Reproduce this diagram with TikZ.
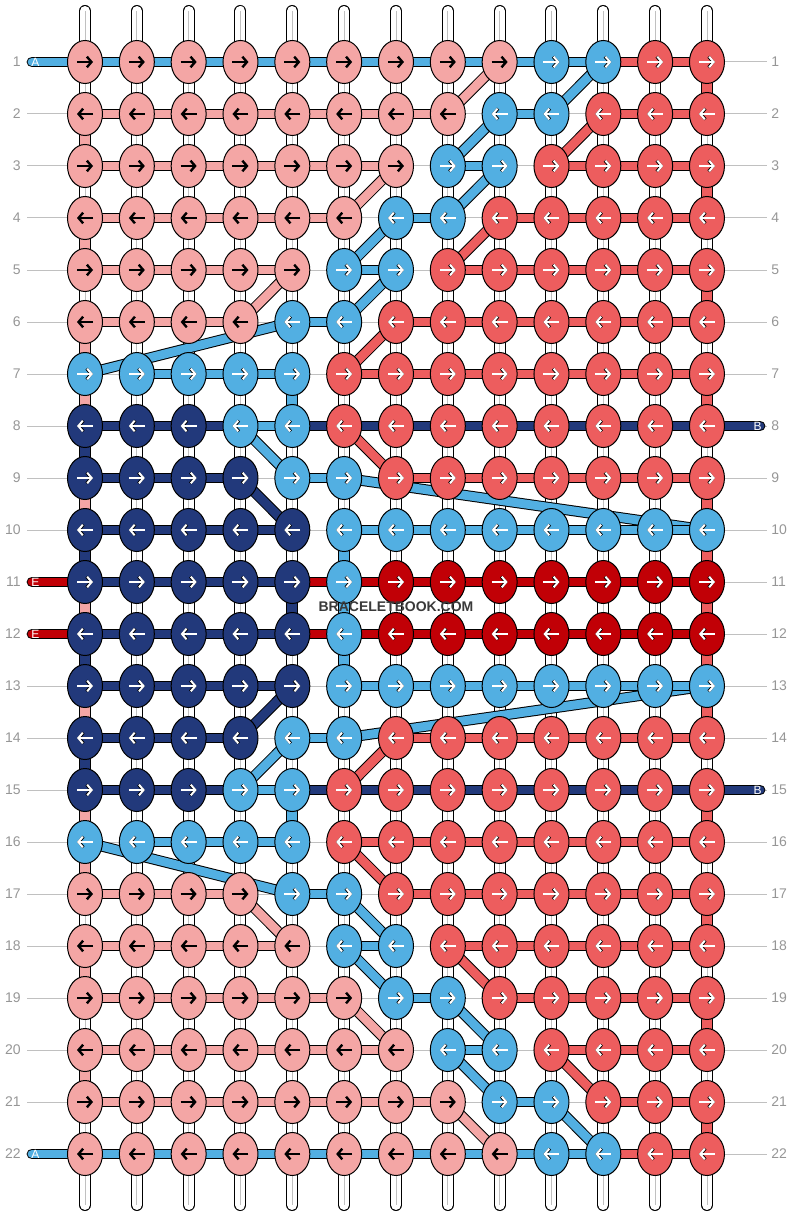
\documentclass[tikz,border=0pt]{standalone}
\usepackage{fontspec}
\setmainfont{Liberation Sans}
\usepackage{xcolor}
\usepackage{tikz}
\usetikzlibrary{shapes.geometric, arrows.meta}
\definecolor{cP}{RGB}{244,166,165}
\definecolor{cS}{RGB}{237,93,94}
\definecolor{cD}{RGB}{193,0,6}
\definecolor{cB}{RGB}{82,175,226}
\definecolor{cN}{RGB}{34,57,123}
\definecolor{guidegray}{RGB}{192,192,192}
\definecolor{labelgray}{RGB}{150,150,150}
\definecolor{markgray}{RGB}{58,58,58}
\def\nothread{-}
\def\pinkcode{P}
\pgfdeclarelayer{guides}
\pgfdeclarelayer{threads}
\pgfsetlayers{guides,threads,main}
\tikzset{
  knot/.style={ellipse, draw=black, line width=0.75pt,
    minimum width=26.25pt, minimum height=32.25pt, inner sep=0pt},
  band/.style={draw=black, line width=0.75pt, double=#1, double distance=6.6pt},
  vband/.style={draw=black, line width=0.75pt, double=#1, double distance=7.5pt},
  tube/.style={vband=white, line cap=round},
  tubeline/.style={draw=guidegray, line width=0.6pt},
  lead/.style={band=#1, line cap=round},
  leadtag/.style={text=white, font=\fontsize{9}{10}\selectfont, inner sep=0pt},
  guide/.style={draw=guidegray, line width=0.75pt},
  rowlabel/.style={text=labelgray, font=\fontsize{10.5}{12}\selectfont, inner sep=0pt},
  darkarrow/.style={draw=black, line width=1.8pt,
    arrows={-Straight Barb[length=3.4pt, width=8pt]}},
  lightarrow/.style={draw=white, line width=1.5pt,
    arrows={-Straight Barb[length=3.4pt, width=8pt]},
    preaction={draw=black, line width=2.2pt,
      arrows={-Straight Barb[length=3.4pt, width=8pt]}}}
}

\begin{document}
\begin{tikzpicture}[x=0.75pt, y=-0.75pt]
  \useasboundingbox (0,0) rectangle (792,1216);

  % Knots (rows 1-11, mirrored onto 22-12)
  \foreach \row/\cols in {
      1/{P,P,P,P,P,P,P,P,P,B,B,S,S},
      2/{P,P,P,P,P,P,P,P,B,B,S,S,S},
      3/{P,P,P,P,P,P,P,B,B,S,S,S,S},
      4/{P,P,P,P,P,P,B,B,S,S,S,S,S},
      5/{P,P,P,P,P,B,B,S,S,S,S,S,S},
      6/{P,P,P,P,B,B,S,S,S,S,S,S,S},
      7/{B,B,B,B,B,S,S,S,S,S,S,S,S},
      8/{N,N,N,B,B,S,S,S,S,S,S,S,S},
      9/{N,N,N,N,B,B,S,S,S,S,S,S,S},
      10/{N,N,N,N,N,B,B,B,B,B,B,B,B},
      11/{N,N,N,N,N,B,D,D,D,D,D,D,D}} {
    \pgfmathtruncatemacro\mrow{23-\row}
    \pgfmathsetmacro\xa{mod(\row,2)==1 ? -6 : 6}
    \pgfmathsetmacro\xb{-1*\xa}
    \foreach \kc [count=\col] in \cols {
      \node[knot, fill=c\kc] (k-\row-\col) at ({85+(\col-1)*51.83}, {62+(\row-1)*52}) {};
      \node[knot, fill=c\kc] (k-\mrow-\col) at ({85+(\col-1)*51.83}, {62+(\mrow-1)*52}) {};
      \ifx\kc\pinkcode
        \draw[darkarrow] ([xshift=\xa pt]k-\row-\col.center) -- ([xshift=\xb pt]k-\row-\col.center);
        \draw[darkarrow] ([xshift=\xb pt]k-\mrow-\col.center) -- ([xshift=\xa pt]k-\mrow-\col.center);
      \else
        \draw[lightarrow] ([xshift=\xa pt]k-\row-\col.center) -- ([xshift=\xb pt]k-\row-\col.center);
        \draw[lightarrow] ([xshift=\xb pt]k-\mrow-\col.center) -- ([xshift=\xa pt]k-\mrow-\col.center);
      \fi
    }
  }

  % Row numbers and guide lines
  \foreach \row in {1,...,22} {
    \node[rowlabel, anchor=east] (ll-\row) at (21, {62+(\row-1)*52}) {\row};
    \node[rowlabel, anchor=west] (rl-\row) at (771, {62+(\row-1)*52}) {\row};
    \begin{pgfonlayer}{guides}
      \draw[guide] ([xshift=4.5pt]ll-\row.east) -- ([xshift=-3pt]rl-\row.west);
    \end{pgfonlayer}
  }

  % Warp strings
  \begin{pgfonlayer}{guides}
    \foreach \col in {1,...,13} {
      \draw[tube] ([yshift=38.25pt]k-1-\col.center) -- ([yshift=-38.25pt]k-22-\col.center);
      \draw[tubeline] ([yshift=38.25pt]k-1-\col.center) -- ([yshift=-38.25pt]k-22-\col.center);
    }
  \end{pgfonlayer}

  \begin{pgfonlayer}{threads}
    % Edge turns
    \foreach \col/\row/\kc in {1/2/P, 1/4/P, 1/6/P, 1/7/P, 1/8/N, 1/9/P, 1/10/N, 1/11/P,
        13/1/S, 13/3/S, 13/5/S, 13/7/S, 13/9/S, 13/10/S, 13/11/S,
        5/7/B, 5/11/N, 6/10/B, 6/11/B} {
      \pgfmathtruncatemacro\nxt{\row+1}
      \pgfmathtruncatemacro\mrow{22-\row}
      \pgfmathtruncatemacro\mnxt{23-\row}
      \draw[vband=c\kc] (k-\row-\col.center) -- (k-\nxt-\col.center);
      \draw[vband=c\kc] (k-\mrow-\col.center) -- (k-\mnxt-\col.center);
    }

    % Diagonals
    \foreach \ra/\ca/\rb/\cb/\kc in {2/8/1/9/P, 3/8/2/9/B, 4/8/3/9/B, 2/10/1/11/B,
        3/10/2/11/S, 4/6/3/7/P, 5/6/4/7/B, 5/8/4/9/S, 6/6/5/7/B, 6/4/5/5/P,
        7/6/6/7/S, 7/1/6/5/B, 8/4/9/5/B, 9/4/10/5/N, 8/6/9/7/S, 9/6/10/13/B} {
      \pgfmathtruncatemacro\ma{23-\ra}
      \pgfmathtruncatemacro\mb{23-\rb}
      \draw[band=c\kc] (k-\ra-\ca.center) -- (k-\rb-\cb.center);
      \draw[band=c\kc] (k-\ma-\ca.center) -- (k-\mb-\cb.center);
    }

    % Row threads
    \foreach \row/\segs in {
        1/{B,B,B,B,B,B,B,B,B,B,S,S},
        2/{P,P,P,P,P,P,P,-,B,-,S,S},
        3/{P,P,P,P,P,P,-,B,-,S,S,S},
        4/{P,P,P,P,P,-,B,-,S,S,S,S},
        5/{P,P,P,P,-,B,-,S,S,S,S,S},
        6/{P,P,P,-,B,-,S,S,S,S,S,S},
        7/{-,B,B,B,-,S,S,S,S,S,S,S},
        8/{N,N,N,B,N,N,N,N,N,N,N,N},
        9/{N,N,N,-,B,-,S,S,S,S,S,S},
        10/{N,N,N,N,-,B,B,B,B,B,B,B},
        11/{N,N,N,N,D,D,D,D,D,D,D,D}} {
      \pgfmathtruncatemacro\mrow{23-\row}
      \foreach \kc [count=\col] in \segs {
        \pgfmathtruncatemacro\nxt{\col+1}
        \ifx\kc\nothread\else
          \draw[band=c\kc] (k-\row-\col.center) -- (k-\row-\nxt.center);
          \draw[band=c\kc] (k-\mrow-\col.center) -- (k-\mrow-\nxt.center);
        \fi
      }
    }

    % Loose ends
    \coordinate (endA-1) at (32,62);
    \coordinate (endA-22) at (32,1154);
    \coordinate (endE-11) at (32,582);
    \coordinate (endE-12) at (32,634);
    \coordinate (endB-8) at (760,426);
    \coordinate (endB-15) at (760,790);
    \draw[lead=cB] (endA-1) -- (k-1-1.center);
    \draw[lead=cB] (endA-22) -- (k-22-1.center);
    \draw[lead=cD] (endE-11) -- (k-11-1.center);
    \draw[lead=cD] (endE-12) -- (k-12-1.center);
    \draw[lead=cN] (endB-8) -- (k-8-13.center);
    \draw[lead=cN] (endB-15) -- (k-15-13.center);
  \end{pgfonlayer}

  \node[leadtag] (tagA-1) at (35.5,62) {A};
  \node[leadtag] (tagA-22) at (35.5,1154) {A};
  \node[leadtag] (tagE-11) at (35.5,582) {E};
  \node[leadtag] (tagE-12) at (35.5,634) {E};
  \node[leadtag] (tagB-8) at (757.5,426) {B};
  \node[leadtag] (tagB-15) at (757.5,790) {B};

  % Watermark
  \node[text=markgray, font=\fontsize{10.5}{12}\selectfont\bfseries] (mark) at (396,607) {BRACELETBOOK.COM};
\end{tikzpicture}
\end{document}
